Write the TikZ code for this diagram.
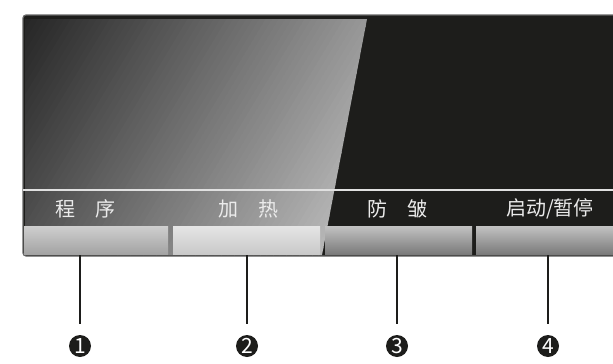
\documentclass[tikz,border=0pt]{standalone}
\usepackage{fontspec}
\setmainfont{Noto Sans CJK SC}
\usetikzlibrary{positioning}
\definecolor{panelblack}{HTML}{1D1D1B}

\begin{document}
\begin{tikzpicture}[x=1pt,y=-1pt,
   btn/.style 2 args={minimum height=28pt,inner sep=0pt,top color=#1,bottom color=#2},
   lbl/.style={text=white!92!black,inner sep=0pt,font=\fontsize{20}{20}\selectfont},
   num/.style={circle,fill=panelblack,text=white,inner sep=0pt,minimum size=22pt,
     font=\fontsize{21}{21}\selectfont},
   leader/.style={line width=2pt,panelblack}
  ]
 \useasboundingbox (0,0) rectangle (613,364);
 \clip (0,0) rectangle (613,364);

 % panel
 \draw[fill=panelblack,draw=gray!80!black,line width=1.2pt,rounded corners=3pt]
   (23,15) rectangle (640,256);
 % gloss, built from slanted bands
 \begin{scope}
  \clip (25,19) -- (367,19) -- (322,255) -- (25,255) -- cycle;
  \foreach \k in {0,...,67}{
    \pgfmathsetmacro\p{85-57*\k/67}
    \fill[black!\p] ({25+6.5*\k},19) -- ++(7.2,0) -- ++(-142,236) -- ++(-7.2,0) -- cycle;
  }
 \end{scope}
 \draw[white!88!black,line width=1.3pt] (23,190) -- (613,190);

 % labels
 \node[lbl] (l1) at (85,209) {程　序};
 \node[lbl] (l2) at (248,209) {加　热};
 \node[lbl] (l3) at (397,209) {防　皱};
 \node[lbl] (l4) at (550,209) {启动/暂停};

 % buttons
 \node[btn={black!19}{black!36},minimum width=144pt] (b1) at (96,240) {};
 \node[btn={black!10}{black!21},minimum width=147pt] (b2) at (246.5,240) {};
 \node[btn={black!24}{black!52},minimum width=147pt] (b3) at (398.5,240) {};
 \node[btn={black!24}{black!52},minimum width=150pt] (b4) at (551,240) {};

 % numbers
 \node[num] (n1) at (80,346) {1};
 \node[num] (n2) at (247,346) {2};
 \node[num] (n3) at (397,346) {3};
 \node[num] (n4) at (548,346) {4};

 \foreach \i/\x in {1/80,2/247,3/397,4/548}{
   \coordinate (t\i) at (\x,255);
   \draw[leader] (t\i) -- ([yshift=11pt]n\i.north);
 }
\end{tikzpicture}
\end{document}
